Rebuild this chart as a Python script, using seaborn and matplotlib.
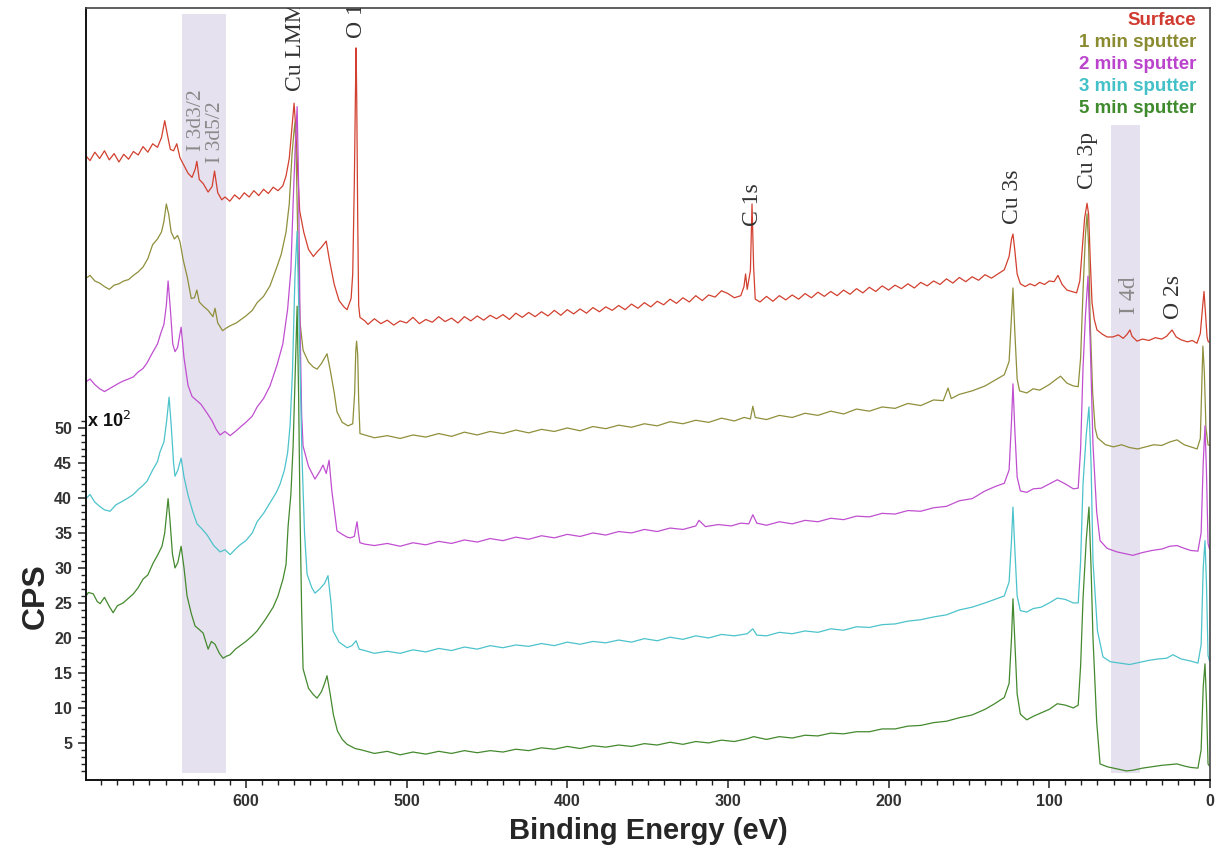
import numpy as np
import pandas as pd
import seaborn as sns
import matplotlib.pyplot as plt
from matplotlib.ticker import FixedLocator, MultipleLocator

# Settings
sns.set_theme(style="white")
plt.rcParams['font.family'] = ['Liberation Sans', 'DejaVu Sans']
plt.rcParams['axes.unicode_minus'] = False

# XPS survey spectra, (binding energy eV, CPS x 10^2)
surface = [
    (700, 89.0), (697, 88.2), (694, 89.4), (691, 88.5), (688, 89.6), (685, 88.3), (682, 89.2),
    (679, 88.0), (676, 89.1), (673, 88.4), (670, 89.5), (667, 89.0), (664, 90.2), (661, 89.4),
    (658, 90.6), (655, 90.1), (652.5, 91.5), (650.5, 93.9), (648.5, 91.5), (647, 89.8),
    (645, 89.6), (643, 90.6), (641, 88.6), (638.5, 87.5), (636, 86.4), (633.5, 85.8),
    (631.5, 87.0), (630.5, 88.1), (629, 85.5), (626.5, 84.9), (623.5, 83.7), (621, 84.5),
    (619.5, 86.7), (617.5, 83.6), (615, 82.6), (613, 83.0), (610, 82.4), (607, 83.3),
    (604, 82.7), (601, 83.6), (598, 83.0), (595, 83.9), (592, 83.2), (589, 84.1), (586, 83.5),
    (583, 84.4), (580, 83.9), (577, 84.6), (575, 86.0), (573, 88.5), (571.5, 92.5), (570, 96.4),
    (569, 93.0), (568, 88.0), (566.5, 81.0), (564, 78.0), (561, 75.5), (558, 74.5),
    (555.5, 75.2), (553, 75.8), (550, 76.7), (548, 74.0), (545, 70.5), (542, 68.2), (539, 67.3),
    (537, 66.9), (534.5, 68.5), (533.5, 72.0), (532.5, 85.0), (531.8, 98.0), (531.4, 104.3),
    (531.0, 97.0), (530.4, 80.0), (529.8, 67.5), (529, 65.8),
    (526, 65.3), (524, 64.8), (520, 65.6), (516, 64.9), (512, 65.4), (508, 64.7), (504, 65.3),
    (500, 65.0), (496, 65.8), (492, 64.9), (488, 65.5), (484, 65.1), (480, 65.9), (476, 65.2),
    (472, 65.7), (468, 65.0), (464, 65.9), (460, 65.3), (456, 66.0), (452, 65.4), (448, 66.1),
    (444, 65.6), (440, 66.2), (436, 65.5), (432, 66.4), (428, 65.8), (424, 66.5), (420, 65.9),
    (416, 66.6), (412, 66.0), (408, 66.8), (404, 66.1), (400, 66.9), (396, 66.3), (392, 67.0),
    (388, 66.4), (384, 67.2), (380, 66.6), (376, 67.3), (372, 66.8), (368, 67.5), (364, 66.9),
    (360, 67.7), (356, 67.1), (352, 67.9), (348, 67.3), (344, 68.1), (340, 67.6), (336, 68.4),
    (332, 67.8), (328, 68.6), (324, 68.0), (320, 68.9), (316, 68.2), (312, 69.0), (308, 68.7),
    (304, 69.6), (300, 69.2), (296, 68.6), (292, 68.9), (290, 70.2), (289, 72.0), (288, 69.8),
    (286, 72.5), (285, 82.0), (284, 73.0), (283, 68.4), (280, 68.0), (276, 68.8), (272, 68.1),
    (268, 68.9), (264, 68.3), (260, 69.0), (256, 68.4), (252, 69.2), (248, 68.6), (244, 69.4),
    (240, 68.8), (236, 69.5), (232, 68.9), (228, 69.7), (224, 69.1), (220, 69.9), (216, 69.3),
    (212, 70.1), (208, 69.5), (204, 70.3), (200, 69.7), (196, 70.4), (192, 69.9), (188, 70.6),
    (184, 70.0), (180, 70.8), (176, 70.3), (172, 71.0), (168, 70.5), (164, 71.3), (160, 70.7),
    (156, 71.5), (152, 70.9), (148, 71.6), (144, 71.1), (140, 71.9), (136, 71.4), (132, 72.0),
    (128, 72.6), (125, 74.5), (123.5, 77.0), (122.6, 77.7), (121.5, 75.5), (120, 72.0),
    (118, 70.6), (115, 70.2), (112, 70.6), (109, 70.3), (106, 70.8), (103, 70.5), (100, 71.0),
    (97, 70.9), (94.6, 71.8), (92, 70.5), (89, 69.7), (86, 69.5), (83, 69.3), (81, 71.0),
    (79.7, 75.0), (78, 80.0), (76.5, 82.1), (75.5, 80.5), (74.5, 74.0), (73.4, 67.9),
    (72, 65.5), (70.3, 64.0), (67, 63.4), (64, 63.0), (60.4, 63.0), (57, 63.3), (54, 62.8),
    (51.5, 63.4), (49.8, 64.0), (48.5, 63.1), (45.4, 62.4), (42, 62.7), (38, 62.5), (34, 62.9),
    (30, 62.7), (27, 63.1), (23.6, 64.0), (21, 63.0), (18, 62.6), (14, 62.3), (11, 62.5),
    (8.1, 62.1), (6, 63.5), (4.7, 67.0), (3.7, 69.5), (2.7, 66.0), (1.8, 63.0), (1.2, 62.4),
    (0.3, 62.2),
]

sputter_1min = [
    (700, 71.3), (697, 71.8), (694, 71.0), (691, 70.7), (688, 70.2), (685, 69.8), (682, 70.4),
    (679, 70.6), (676, 71.0), (673, 71.2), (670, 71.8), (667, 72.3), (664, 73.0), (661, 74.2),
    (658, 76.2), (655, 77.0), (652.5, 78.0), (651, 79.5), (649.5, 82.0), (648, 80.5),
    (646.5, 78.0), (644.5, 77.0), (642.5, 77.5), (641, 76.6), (639, 74.0), (636.5, 71.6),
    (634, 68.5), (632, 68.6), (630.5, 69.7), (629, 68.0), (626.5, 67.4), (623.5, 66.8),
    (620.5, 65.9), (619.2, 67.1), (617.5, 65.0), (614.5, 63.9), (612, 64.3), (609.8, 64.6),
    (606, 65.0), (603.6, 65.4), (600, 66.0), (596, 66.8), (593, 67.9), (589, 68.8), (585, 70.3),
    (581, 72.8), (578, 74.8), (575, 78.0), (573, 82.0), (571.3, 89.0), (570.2, 92.0),
    (569.4, 93.7), (568.6, 88.0), (567.5, 75.0), (566.3, 65.1), (564.4, 61.1), (561, 59.4),
    (558, 58.7), (555.7, 58.4), (553, 59.2), (551, 60.0), (549.5, 60.6), (547.6, 58.4),
    (545, 55.0), (543.3, 52.3), (540, 50.8), (536.4, 50.3), (533.5, 50.6), (532.3, 55.0),
    (531.6, 61.0), (531.1, 62.4), (530.4, 60.5), (529.8, 54.0), (529.0, 49.2),
    (526, 49.0), (520, 48.6), (512, 48.9), (504, 48.5), (496, 49.0), (488, 48.7), (480, 49.2),
    (472, 48.8), (464, 49.4), (456, 49.0), (448, 49.5), (440, 49.2), (432, 49.7), (424, 49.3),
    (416, 49.8), (408, 49.5), (400, 50.0), (392, 49.6), (384, 50.2), (376, 49.9), (368, 50.4),
    (360, 50.1), (352, 50.6), (344, 50.3), (336, 50.9), (328, 50.6), (320, 51.1), (312, 50.8),
    (304, 51.4), (296, 51.0), (290, 51.5), (286, 51.3), (284.5, 53.1), (283, 51.5), (276, 51.2),
    (268, 51.8), (260, 51.5), (252, 52.1), (244, 51.8), (236, 52.4), (228, 52.0), (220, 52.7),
    (212, 52.4), (204, 53.0), (196, 52.8), (188, 53.5), (180, 53.2), (172, 54.0), (166, 53.9),
    (163, 55.7), (161, 54.2), (156, 54.8), (148, 55.3), (140, 56.0), (134, 56.8), (128, 57.6),
    (125, 59.5), (123.5, 66.0), (122.6, 70.0), (121.5, 64.0), (120, 57.0), (118.5, 55.3),
    (114, 55.0), (110, 55.6), (106, 55.4), (100, 56.2), (96, 56.9), (93, 57.4), (89, 56.4),
    (85, 56.0), (82, 55.9), (80.5, 60.0), (79, 69.6), (77.5, 77.5), (76.5, 80.6), (75.5, 76.0),
    (74.5, 65.0), (73, 55.0), (71.5, 50.0), (70, 48.6), (65, 47.6), (60, 47.3), (55, 47.6),
    (50, 47.2), (45, 47.0), (40, 47.3), (35, 47.6), (30, 47.5), (25, 48.0), (20.5, 48.3),
    (16, 47.6), (12, 47.3), (8, 47.0), (6, 48.5), (4.4, 61.7), (3.5, 58.0), (2.5, 50.0),
    (1.2, 47.6), (0.3, 47.5),
]

sputter_2min = [
    (700, 56.5), (697, 57.0), (694, 56.2), (691, 55.6), (688, 55.2), (685, 55.6), (682, 56.0),
    (679, 56.4), (676.4, 56.7), (673, 57.0), (670, 57.3), (667, 58.0), (664, 58.5),
    (661.5, 59.3), (658, 60.8), (655, 62.0), (653, 63.5), (651, 64.8), (649.5, 67.5),
    (648.4, 71.0), (647, 67.0), (645.5, 62.0), (644.1, 60.9), (642.5, 61.5), (640.3, 64.4),
    (638.5, 60.0), (636, 56.1), (633.5, 54.5), (631, 54.0), (628, 53.4), (624.1, 52.1),
    (621, 51.0), (618.5, 49.8), (616.1, 49.0), (613, 49.5), (609.8, 48.9), (606, 49.6),
    (603.6, 50.1), (600, 50.8), (596, 51.7), (593, 53.0), (589, 54.2), (585, 56.0),
    (580.6, 59.0), (577, 62.0), (574, 67.0), (572, 72.5), (570.6, 82.1), (569.3, 90.0),
    (568.1, 95.9), (567.2, 85.0), (566.3, 65.1), (565.3, 52.0), (564.4, 47.4), (561, 44.5),
    (557, 42.7), (554, 43.8), (552, 44.7), (550, 43.5), (548.2, 45.4), (546.5, 41.0),
    (543.3, 35.3), (540, 34.8), (537, 34.4), (535, 34.3), (532.5, 34.5), (531.5, 35.8),
    (530.8, 36.6), (530.0, 35.0), (529.0, 33.6),
    (526, 33.4), (520, 33.2), (512, 33.5), (504, 33.1), (496, 33.6), (488, 33.3), (480, 33.8),
    (472, 33.5), (464, 34.0), (456, 33.7), (448, 34.2), (440, 33.9), (432, 34.4), (424, 34.1),
    (416, 34.6), (408, 34.3), (400, 34.8), (392, 34.5), (384, 35.0), (376, 34.7), (368, 35.2),
    (360, 35.0), (352, 35.5), (344, 35.2), (336, 35.7), (328, 35.5), (320, 36.0), (318, 36.8),
    (314, 35.9), (306, 36.2), (298, 36.0), (292, 36.4), (287, 36.3), (284.5, 37.6), (282, 36.4),
    (276, 36.1), (268, 36.6), (260, 36.3), (252, 36.8), (244, 36.6), (236, 37.1), (228, 36.9),
    (220, 37.4), (212, 37.3), (204, 37.8), (196, 37.7), (188, 38.2), (180, 38.1), (172, 38.6),
    (164, 38.8), (156, 39.6), (148, 39.9), (140, 41.0), (134, 41.6), (128, 42.1), (125, 44.0),
    (123.5, 51.0), (122.6, 56.3), (121.5, 50.0), (120, 43.0), (118, 41.0), (114, 40.8),
    (110, 41.3), (105, 41.4), (100, 42.0), (95, 42.6), (90, 42.0), (85, 41.3), (82, 41.4),
    (80.5, 47.0), (79, 58.6), (77.5, 66.0), (75.9, 71.7), (74.5, 62.0), (72.8, 47.6),
    (70.5, 38.0), (68.4, 33.9), (64, 32.8), (58, 32.3), (52, 32.0), (48, 31.8), (42, 32.2),
    (36, 32.5), (30, 32.7), (25, 33.1), (20.5, 33.2), (16, 32.8), (12, 32.5), (7.5, 32.4),
    (5.5, 35.0), (4.2, 45.0), (3.1, 50.3), (2.2, 44.0), (1.2, 33.5), (0.3, 32.7),
]

sputter_3min = [
    (700, 39.8), (697, 40.5), (694, 39.4), (691, 38.8), (688, 38.3), (684.5, 38.1), (681, 39.0),
    (677, 39.5), (674, 39.9), (670, 40.5), (667, 41.2), (664, 41.8), (661.5, 42.4), (658, 44.0),
    (655, 45.2), (653.4, 46.6), (651, 48.0), (649.3, 51.0), (647.8, 54.4), (646.5, 50.5),
    (645, 45.0), (644.1, 43.1), (642.3, 44.0), (640.3, 45.7), (638.5, 43.0), (636, 40.4),
    (633, 38.0), (630.4, 36.3), (627, 35.5), (624.1, 34.7), (620, 33.2), (616.1, 32.3),
    (613, 32.6), (609.8, 31.9), (606, 32.8), (603.6, 33.3), (600, 33.9), (596, 35.0),
    (593, 36.6), (589, 37.8), (585, 39.3), (581, 40.8), (578.7, 42.0), (576, 44.0),
    (574, 46.5), (572.5, 50.3), (571, 58.0), (569.4, 72.0), (568.1, 78.1), (567, 66.0),
    (565.1, 46.1), (563.5, 35.0), (561.9, 29.1), (559, 27.2), (557, 26.4), (554, 27.0),
    (551, 27.8), (548.9, 28.9), (547, 25.0), (545.7, 21.0), (542, 19.4), (537, 18.6),
    (534, 18.9), (531.4, 19.6), (529.5, 18.4),
    (526, 18.2), (520, 17.8), (512, 18.1), (504, 17.8), (496, 18.3), (488, 18.0), (480, 18.5),
    (472, 18.2), (464, 18.7), (456, 18.4), (448, 18.9), (440, 18.6), (432, 19.0), (424, 18.8),
    (416, 19.2), (408, 18.9), (400, 19.4), (392, 19.1), (384, 19.5), (376, 19.3), (368, 19.7),
    (360, 19.4), (352, 19.9), (344, 19.6), (336, 20.1), (328, 19.8), (320, 20.3), (312, 20.0),
    (304, 20.5), (296, 20.3), (288, 20.6), (284.5, 21.3), (282, 20.4), (276, 20.3), (268, 20.8),
    (260, 20.6), (252, 21.0), (244, 20.8), (236, 21.3), (228, 21.1), (220, 21.6), (212, 21.5),
    (204, 21.9), (196, 22.0), (188, 22.4), (180, 22.6), (172, 23.0), (164, 23.3), (156, 24.0),
    (148, 24.4), (140, 25.0), (134, 25.5), (128, 26.0), (125, 28.0), (123.5, 34.0),
    (122.6, 38.7), (121.5, 33.0), (120, 26.0), (118, 23.9), (114, 23.7), (110, 24.2),
    (105, 24.4), (100, 25.0), (95, 25.7), (90, 25.5), (85, 25.0), (82, 25.0), (80.5, 31.0),
    (79, 42.0), (77, 49.0), (75.3, 53.0), (74, 45.0), (72.8, 31.0), (70, 21.0), (66.6, 17.3),
    (62, 16.6), (56, 16.4), (50, 16.2), (44, 16.5), (38, 16.8), (32, 17.0), (27, 17.1),
    (23, 17.6), (18, 17.0), (12, 16.7), (7.5, 16.4), (5.5, 19.0), (4.2, 30.0), (3.1, 33.9),
    (2.2, 28.0), (1.2, 17.5), (0.3, 16.7),
]

sputter_5min = [
    (700, 25.8), (698, 26.5), (695, 26.3), (692.5, 25.2), (690.7, 24.9), (688, 25.8), (685, 24.5),
    (682.6, 23.6), (680, 24.6), (676.4, 25.0), (673, 25.7), (670, 26.3), (667, 27.2),
    (664, 28.4), (661, 29.0), (657.7, 30.7), (655, 31.8), (652.2, 33.1), (650.5, 35.0),
    (649.2, 38.0), (648.4, 39.9), (647.3, 37.0), (645.7, 32.0), (644.1, 30.0), (642.3, 30.8),
    (640.3, 33.1), (638.5, 30.0), (636.6, 26.0), (634, 23.5), (631.6, 21.7), (629, 21.2),
    (626.6, 20.7), (623.5, 18.4), (621.5, 19.5), (619.2, 19.1), (616.5, 17.8), (614.2, 17.1),
    (612, 17.4), (609.8, 17.6), (606.5, 18.4), (603.6, 18.9), (600, 19.5), (596, 20.3),
    (593, 21.0), (588, 22.6), (583, 24.4), (580, 26.0), (576.9, 28.4), (575, 30.5),
    (573.7, 36.0), (572, 40.5), (570.6, 47.4), (569.3, 58.0), (568.1, 67.4), (567.2, 55.0),
    (566.3, 38.0), (565.3, 24.0), (564.4, 15.6), (561, 12.8), (558, 11.9), (555.7, 11.4),
    (553, 12.3), (551, 13.5), (549.5, 14.6), (547.6, 12.1), (545.5, 9.0),
    (543, 6.7), (540, 5.5), (537, 4.8), (532, 4.2), (528, 4.0), (520, 3.5), (512, 3.8),
    (504, 3.3), (496, 3.7), (488, 3.4), (480, 3.8), (472, 3.5), (464, 3.9), (456, 3.6),
    (448, 3.9), (440, 3.7), (432, 4.1), (424, 3.9), (416, 4.3), (408, 4.1), (400, 4.5),
    (392, 4.2), (384, 4.6), (376, 4.4), (368, 4.7), (360, 4.5), (352, 4.9), (344, 4.7),
    (336, 5.1), (328, 4.8), (320, 5.2), (312, 5.0), (304, 5.4), (296, 5.2), (288, 5.6),
    (284, 5.9), (276, 5.5), (268, 5.9), (260, 5.7), (252, 6.1), (244, 6.0), (236, 6.4),
    (228, 6.3), (220, 6.6), (212, 6.6), (204, 7.0), (196, 7.0), (188, 7.4), (180, 7.5),
    (172, 7.9), (164, 8.1), (156, 8.6), (148, 9.0), (140, 9.8), (134, 10.6), (128, 11.5),
    (125, 13.5), (123.5, 20.0), (122.6, 25.6), (121.5, 20.0), (120, 12.0), (118, 9.1),
    (114, 8.3), (110, 8.8), (105, 9.3), (100, 9.8), (95, 10.6), (90, 10.4), (85, 10.0),
    (82, 10.4), (80.5, 16.0), (79, 25.6), (77, 34.0), (75.3, 38.7), (74, 30.0), (72.8, 20.0),
    (70.5, 8.0), (68.4, 2.0), (64, 1.6), (58, 1.3), (52, 1.0), (48, 1.1), (42, 1.4), (36, 1.6),
    (30, 1.8), (25, 1.9), (20.5, 2.0), (16, 1.7), (12, 1.5), (7.5, 1.4), (5.5, 4.0),
    (4.2, 13.0), (3.1, 16.3), (2.2, 11.0), (1.2, 2.0), (0.3, 1.7),
]

series_names = ['Surface', '1 min sputter', '2 min sputter', '3 min sputter', '5 min sputter']
series_data = [surface, sputter_1min, sputter_2min, sputter_3min, sputter_5min]
line_colors = ['#d2402f', '#8f8f3c', '#c04fd0', '#4cc3cb', '#44892e']
text_colors = ['#d03a30', '#8a8a30', '#bb44cc', '#44c0c8', '#3f8a2c']

# Peak annotations: (label, eV, cps at text bottom, colour, size)
peak_labels = [
    ('Cu LMM', 569.4, 98.1, '#333333', 17),
    ('O 1s', 531.4, 105.7, '#333333', 17),
    ('I 3d3/2', 631.0, 89.6, '#8a8a8a', 15.5),
    ('I 3d5/2', 619.0, 87.9, '#8a8a8a', 15.5),
    ('C 1s', 285.0, 78.9, '#333333', 17),
    ('Cu 3s', 123.2, 79.1, '#333333', 17),
    ('Cu 3p', 76.5, 84.1, '#333333', 17),
    ('I 4d', 49.8, 66.3, '#8a8a8a', 17),
    ('O 2s', 23.0, 65.6, '#333333', 17),
]

# Shaded iodine regions: (eV high, eV low, ymin frac, ymax frac)
shade_regions = [(640.0, 612.3, 0.009, 0.992), (61.6, 43.6, 0.009, 0.848)]

frames = []
for name, pts in zip(series_names, series_data):
    d = pd.DataFrame(pts, columns=['ev', 'cps'])
    d['series'] = name
    frames.append(d)
df = pd.concat(frames, ignore_index=True)

fig = plt.figure(figsize=(12.18, 8.51), dpi=100)
ax = fig.add_axes([0.0706, 0.0834, 0.9228, 0.9072])

for hi, lo, y0, y1 in shade_regions:
    ax.axvspan(lo, hi, ymin=y0, ymax=y1, color='#e6e1ee', lw=0, zorder=0)

for name, col in zip(series_names, line_colors):
    sns.lineplot(data=df[df['series'] == name], x='ev', y='cps', color=col,
                 lw=0.9, estimator=None, sort=True, ax=ax, zorder=2)

ax.set_xlim(699.5, 0)
ax.set_ylim(-0.3, 110.0)

# peak labels
for lab, ev, yb, col, fs in peak_labels:
    ax.text(ev, yb, lab, rotation=90, ha='center', va='bottom', fontsize=fs,
            family=['Liberation Serif', 'DejaVu Serif'], color=col, clip_on=True, zorder=3)

# legend as coloured text
leg_y = [0.984, 0.955, 0.927, 0.898, 0.870]
for name, col, yy in zip(series_names, text_colors, leg_y):
    ax.text(0.988, yy, name, transform=ax.transAxes, ha='right', va='center',
            fontsize=13.5, fontweight='bold', color=col)

ax.text(699, 49.6, r'x 10$^2$', ha='left', va='bottom', fontsize=13,
        fontweight='bold', color='#111111')

# ticks
ax.xaxis.set_major_locator(FixedLocator([0, 100, 200, 300, 400, 500, 600]))
ax.xaxis.set_minor_locator(MultipleLocator(10))
ax.yaxis.set_major_locator(FixedLocator(list(range(5, 51, 5))))
ax.yaxis.set_minor_locator(FixedLocator(list(range(1, 52))))
ax.tick_params(axis='both', which='major', direction='out', length=6, width=1.1,
               color='#222222', labelsize=11.5, labelcolor='#333333', pad=4)
ax.tick_params(axis='both', which='minor', direction='out', length=3.5, width=1.0,
               color='#222222')
ax.tick_params(bottom=True, left=True, top=False, right=False)
ax.tick_params(axis='both', which='minor', bottom=True, left=True)
for lbl in ax.get_xticklabels() + ax.get_yticklabels():
    lbl.set_fontweight('bold')

for side in ['left', 'bottom']:
    ax.spines[side].set_color('#111111')
    ax.spines[side].set_linewidth(1.4)
for side in ['top', 'right']:
    ax.spines[side].set_color('#444444')
    ax.spines[side].set_linewidth(1.2)

ax.set_xlabel('Binding Energy (eV)', fontsize=21, fontweight='bold', labelpad=6)
ax.set_ylabel('CPS', fontsize=23, fontweight='bold')
ax.yaxis.set_label_coords(-0.031, (26.0 + 0.3) / 110.3)

plt.savefig('out.png', dpi=100)
plt.close()
